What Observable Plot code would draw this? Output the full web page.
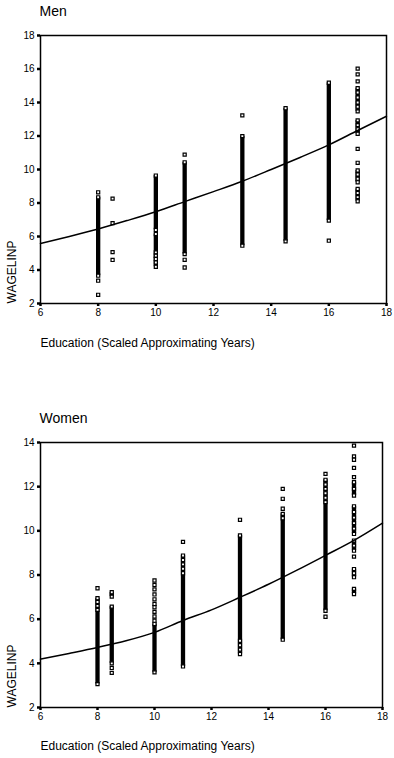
<!DOCTYPE html>
<html><head><meta charset="utf-8">
<script src="https://cdn.jsdelivr.net/npm/d3@7"></script>
<script src="https://cdn.jsdelivr.net/npm/@observablehq/plot@0.6"></script>
<style>
html,body{margin:0;padding:0;background:#fff;overflow:hidden;width:394px;height:758px;}
#men{position:absolute;left:0;top:0;}
#women{position:absolute;left:0;top:400px;}
</style></head><body>
<div id="men"></div><div id="women"></div>
<script>
const xTicks = [6, 8, 10, 12, 14, 16, 18];
const menYTicks = [2, 4, 6, 8, 10, 12, 14, 16, 18];
const womenYTicks = [2, 4, 6, 8, 10, 12, 14];
const panelTitles = ["Men", "Women"];
const xLabel = "Education (Scaled Approximating Years)";
const yLabel = "WAGELINP";

// dense stacks of overlapping points: [education, lowest wage, highest wage]
const menRuns = [
  [8, 3.66, 8.34], [10, 6.39, 9.64], [10, 4.19, 6.15], [11, 4.95, 10.43],
  [13, 5.45, 11.99], [14.5, 5.71, 13.66], [16, 6.95, 15.18],
  [17, 13.47, 14.86], [17, 12.13, 12.93], [17, 9.24, 9.94], [17, 8.10, 8.84]
];
// individually visible points: [education, wage]
const menPoints = [
  [8, 8.64], [8, 3.36], [8, 2.52],
  [8.5, 8.26], [8.5, 6.80], [8.5, 5.07], [8.5, 4.60],
  [10, 5.05], [10, 4.85], [10, 4.66], [10, 4.45],
  [11, 10.89], [11, 4.61], [11, 4.15],
  [13, 13.23],
  [16, 5.75],
  [17, 16.02], [17, 15.68], [17, 15.26], [17, 14.6], [17, 14.3], [17, 14.0], [17, 13.75],
  [17, 12.65], [17, 12.4], [17, 11.23], [17, 10.40], [17, 9.7], [17, 9.45], [17, 8.6], [17, 8.35]
];
// fitted curve: [education, wage]
const menFit = [
  [6, 5.58], [7, 6.0], [8, 6.45], [9, 6.95], [10, 7.48], [11, 8.08], [12, 8.68],
  [13, 9.3], [14, 10.0], [15, 10.72], [16, 11.47], [17, 12.33], [18, 13.18]
];

const womenRuns = [
  [8, 3.06, 6.95], [8.5, 7.02, 7.22], [8.5, 4.0, 6.57], [10, 3.59, 5.78],
  [11, 3.86, 8.88], [13, 4.42, 9.79], [14.5, 5.07, 10.77], [16, 6.38, 12.31],
  [17, 11.6, 12.2], [17, 9.86, 11.11], [17, 9.1, 9.56], [17, 7.9, 8.27], [17, 7.14, 7.37]
];
const womenPoints = [
  [8, 7.40], [8, 6.78], [8, 6.6], [8, 6.42],
  [8.5, 3.79], [8.5, 3.57],
  [10, 7.75], [10, 7.55], [10, 7.35], [10, 7.12], [10, 6.9], [10, 6.69],
  [10, 6.54], [10, 6.33], [10, 6.12], [10, 5.93],
  [11, 9.5], [11, 8.68], [11, 8.48], [11, 8.28], [11, 8.08],
  [13, 10.5], [13, 5.02], [13, 4.82], [13, 4.62],
  [14.5, 11.9], [14.5, 11.45], [14.5, 11.0], [14.5, 10.57],
  [16, 12.58], [16, 12.1], [16, 11.9], [16, 11.7], [16, 11.5], [16, 11.3], [16, 6.11],
  [17, 13.86], [17, 13.37], [17, 13.22], [17, 12.85], [17, 12.43], [17, 11.9],
  [17, 10.85], [17, 10.6], [17, 10.35], [17, 10.1], [17, 9.33], [17, 8.83], [17, 8.08]
];
const womenFit = [
  [6, 4.19], [7, 4.45], [8, 4.72], [9, 5.02], [10, 5.40], [11, 5.94], [12, 6.42],
  [13, 6.99], [14, 7.58], [15, 8.22], [16, 8.89], [17, 9.57], [18, 10.35]
];

const FONT = '"Liberation Sans", Arial, Helvetica, sans-serif';

function panel(o) {
  const ends = o.runs.flatMap(([e, lo, hi]) => [[e, lo], [e, hi]]);
  return Plot.plot({
    width: 394, height: o.height,
    marginTop: o.mt, marginBottom: o.mb, marginLeft: 40, marginRight: o.mr,
    style: {fontFamily: FONT, fontSize: "10px", color: "#000", background: "#fff", overflow: "visible"},
    x: {domain: [6, 18], label: null},
    y: {domain: o.yDomain, label: null},
    marks: [
      Plot.ruleX(o.runs, {x: d => d[0], y1: d => d[1], y2: d => d[2], stroke: "#000", strokeWidth: 4.3}),
      Plot.dot(ends.concat(o.points), {x: d => d[0], y: d => d[1], symbol: "square", r: 1.75, stroke: "#000", fill: "#fff", strokeWidth: 1.2}),
      Plot.line(o.fit, {x: d => d[0], y: d => d[1], stroke: "#000", strokeWidth: 1.5, curve: "monotone-x"}),
      Plot.frame({stroke: "#000", strokeWidth: 1.5}),
      Plot.axisX({ticks: xTicks, tickSize: 3, tickPadding: 2, strokeWidth: 2.5, label: null}),
      Plot.axisY({ticks: o.yTicks, tickSize: 3, tickPadding: 3, strokeWidth: 2.5, label: null}),
      Plot.text([o.title], {frameAnchor: "top-left", textAnchor: "start", lineAnchor: "bottom", dx: -1, dy: o.titleDy, fontSize: 14}),
      Plot.text([xLabel], {frameAnchor: "bottom-left", textAnchor: "start", lineAnchor: "bottom", dy: o.xLabelDy, fontSize: 12}),
      Plot.text([yLabel], {frameAnchor: "bottom-left", textAnchor: "start", lineAnchor: "bottom", rotate: -90, dx: -25, fontSize: 12})
    ]
  });
}

document.getElementById("men").append(panel({
  title: panelTitles[0], runs: menRuns, points: menPoints, fit: menFit,
  yDomain: [2, 18], yTicks: menYTicks, height: 360, mt: 35, mb: 57, mr: 8,
  titleDy: -20, xLabelDy: 43.5
}));
document.getElementById("women").append(panel({
  title: panelTitles[1], runs: womenRuns, points: womenPoints, fit: womenFit,
  yDomain: [2, 14], yTicks: womenYTicks, height: 358, mt: 42, mb: 51, mr: 12,
  titleDy: -20, xLabelDy: 42.5
}));
</script>
</body></html>
